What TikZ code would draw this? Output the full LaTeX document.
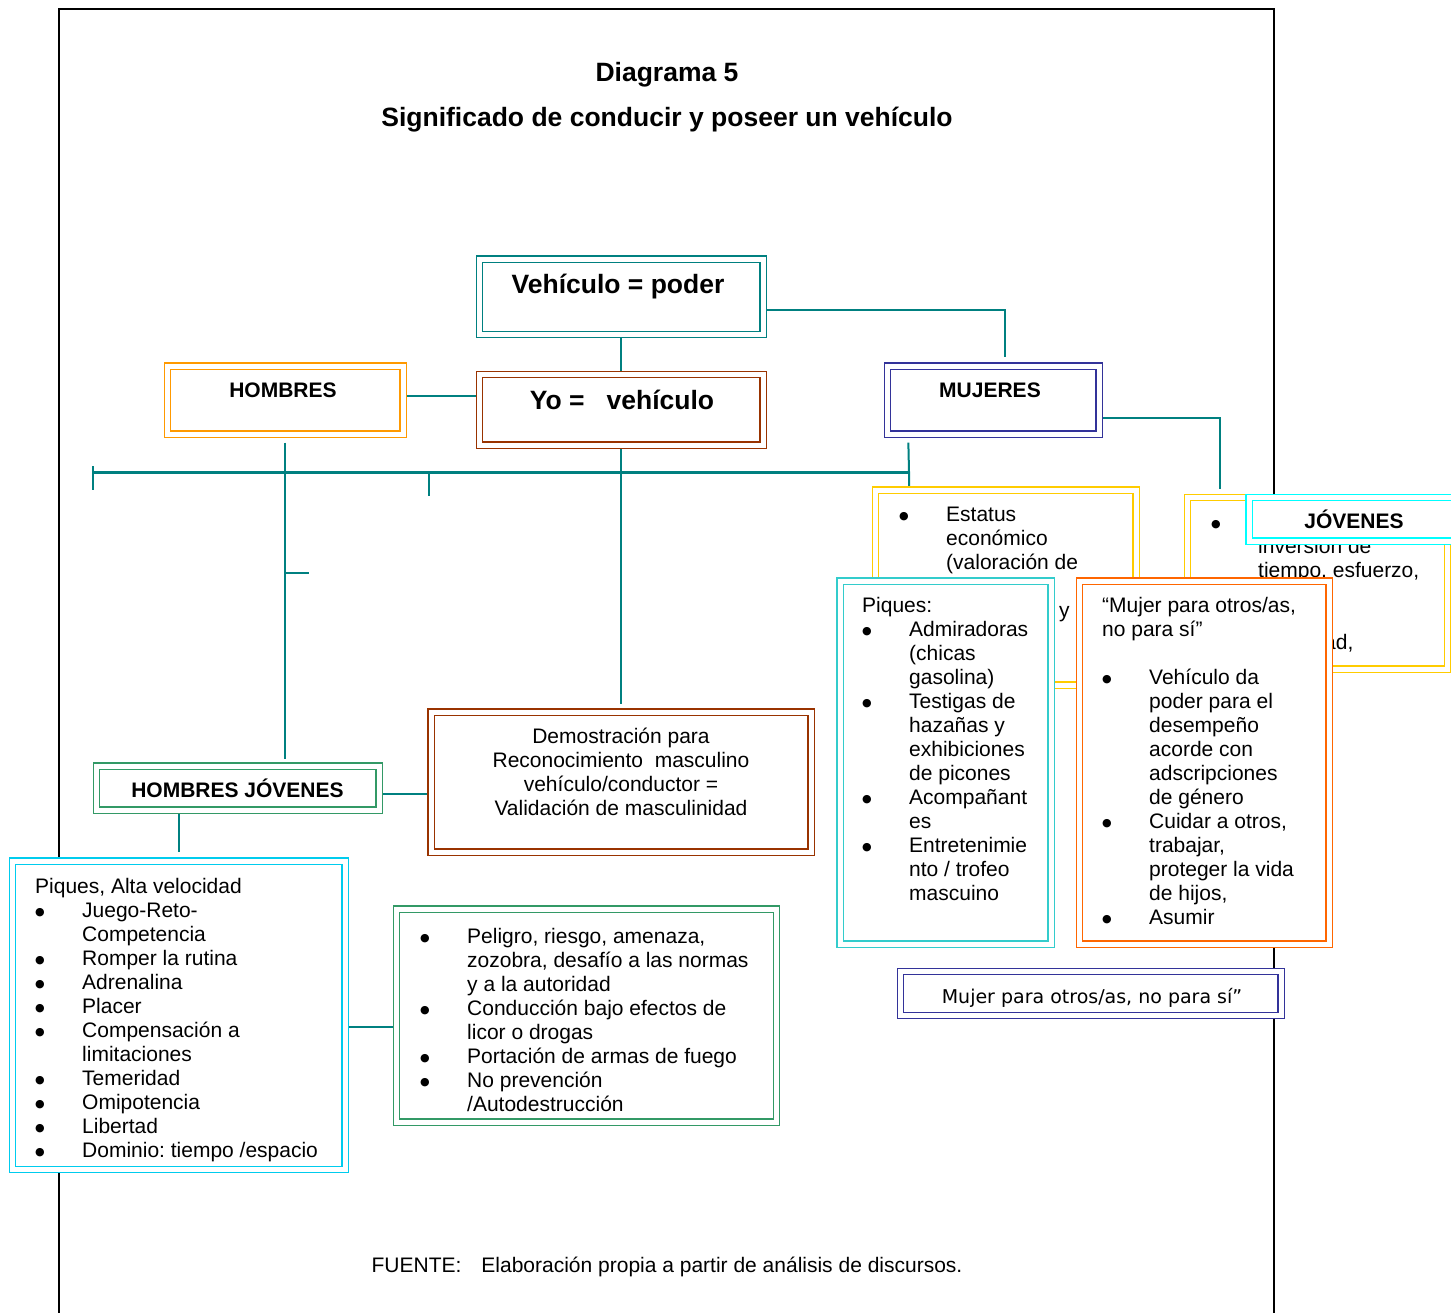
\documentclass[tikz,border=0pt]{standalone}
\usepackage{fontspec}
\setmainfont{Liberation Sans}
\newfontfamily\tahomalike{DejaVu Sans}
\usepackage{xcolor}
\usepackage{tikz}
\usetikzlibrary{calc, backgrounds}

\definecolor{lnteal}{RGB}{0,128,128}
\definecolor{boxbrown}{RGB}{153,51,0}
\definecolor{hmorange}{RGB}{255,153,0}
\definecolor{mjnavy}{RGB}{51,51,153}
\definecolor{hjgreen}{RGB}{51,153,102}
\definecolor{styellow}{RGB}{255,204,0}
\definecolor{orred}{RGB}{255,102,0}
\definecolor{cyansky}{RGB}{0,204,238}
\definecolor{cyanmuj}{RGB}{51,204,204}
\definecolor{cyanjov}{RGB}{0,255,255}

\newcommand{\bl}{\makebox[47pt][l]{\raisebox{1.5pt}{\tahomalike\fontsize{11}{11}\selectfont ●}}}
\newcommand{\ind}{\hspace*{47pt}}
\frenchspacing

\begin{document}
\begin{tikzpicture}[x=1pt, y=-1pt,
  dbox/.style={draw=#1, double=white, double distance=5pt, line width=1.3pt,
    fill=white, inner sep=0pt},
  link/.style={lnteal, line width=2pt},
  bigtxt/.style={font=\bfseries\fontsize{26.5}{30}\selectfont, anchor=base, inner sep=0pt},
  hdtxt/.style={font=\bfseries\fontsize{21}{24}\selectfont, anchor=base, inner sep=0pt},
  lst/.style={font=\fontsize{21}{24}\selectfont, anchor=base west, inner sep=0pt}]
  \useasboundingbox (0,0) rectangle (1451,1312);

  \node[bigtxt] (t1) at (667,81) {Diagrama 5};
  \node[bigtxt] (t2) at (667,126) {Significado de conducir y poseer un vehículo};

  \node[dbox=lnteal, minimum width=283.5pt, minimum height=75.5pt] (vp) at (621.25,296.75) {};
  \node[bigtxt] (vptxt) at (618,293) {Vehículo = poder};
  \node[dbox=boxbrown, minimum width=283.5pt, minimum height=70.5pt] (yo) at (621.25,409.75) {};
  \node[bigtxt] (yotxt) at (622,409) {Yo =\hspace{22pt}vehículo};

  \node[dbox=hmorange, minimum width=235.5pt, minimum height=68pt] (hom) at (285.25,400) {};
  \node[hdtxt] (homtxt) at (283,397) {HOMBRES};
  \node[dbox=mjnavy, minimum width=211.5pt, minimum height=68pt] (muj) at (993.25,400) {};
  \node[hdtxt] (mujtxt) at (990,397) {MUJERES};

  \node[dbox=hjgreen, minimum width=282.5pt, minimum height=44pt] (hj) at (237.75,788) {};
  \node[hdtxt] (hjtxt) at (237.5,797) {HOMBRES JÓVENES};

  \node[dbox=boxbrown, minimum width=380pt, minimum height=140pt] (dem) at (621,782) {};
  \node[lst, anchor=base] (demtxt) at (621,743) {\begin{tabular}[t]{@{}c@{}}
    Demostración para\\
    Reconocimiento\ \ masculino\\
    vehículo/conductor =\\
    Validación de masculinidad
  \end{tabular}};

  \node[dbox=cyansky, minimum width=332.5pt, minimum height=308.5pt] (pav) at (178.75,1015.25) {};
  \node[lst] (pavtxt) at (35,893) {\begin{tabular}[t]{@{}l@{}}
    Piques, Alta velocidad\\
    \bl Juego-Reto-\\
    \ind Competencia\\
    \bl Romper la rutina\\
    \bl Adrenalina\\
    \bl Placer\\
    \bl Compensación a\\
    \ind limitaciones\\
    \bl Temeridad\\
    \bl Omipotencia\\
    \bl Libertad\\
    \bl Dominio: tiempo /espacio
  \end{tabular}};

  \node[dbox=hjgreen, minimum width=380pt, minimum height=213pt] (pel) at (586.5,1015.5) {};
  \node[lst] (peltxt) at (420,943) {\begin{tabular}[t]{@{}l@{}}
    \bl Peligro, riesgo, amenaza,\\
    \ind zozobra, desafío a las normas\\
    \ind y a la autoridad\\
    \bl Conducción bajo efectos de\\
    \ind licor o drogas\\
    \bl Portación de armas de fuego\\
    \bl No prevención\\
    \ind /Autodestrucción
  \end{tabular}};

  \node[dbox=styellow, minimum width=260.5pt, minimum height=195pt] (est) at (1005.75,587.5) {};
  \node[lst] (esttxt) at (899,521) {\begin{tabular}[t]{@{}l@{}}
    \bl Estatus\\
    \ind económico\\
    \ind (valoración de\\
    \\
    \ind\hspace*{113pt}y
  \end{tabular}};

  \node[dbox=styellow, minimum width=260pt, minimum height=171.5pt] (jyel) at (1317.5,583.25) {};
  \node[lst] (jyeltxt) at (1211,529) {\begin{tabular}[t]{@{}l@{}}
    \bl\\
    \ind inversión de\\
    \ind tiempo, esfuerzo,\\
    \\
    \\
    \ind\hspace*{66pt}ad,
  \end{tabular}};

  \node[dbox=cyanjov, minimum width=221pt, minimum height=43.5pt] (jov) at (1359.5,519.25) {};
  \node[hdtxt] (jovtxt) at (1354,528) {JÓVENES};

  \node[dbox=cyanmuj, minimum width=211pt, minimum height=363pt] (pmu) at (945.5,762.5) {};
  \node[lst] (pmutxt) at (862,612) {\begin{tabular}[t]{@{}l@{}}
    Piques:\\
    \bl Admiradoras\\
    \ind (chicas\\
    \ind gasolina)\\
    \bl Testigas de\\
    \ind hazañas y\\
    \ind exhibiciones\\
    \ind de picones\\
    \bl Acompañant\\
    \ind es\\
    \bl Entretenimie\\
    \ind nto / trofeo\\
    \ind mascuino
  \end{tabular}};

  \node[dbox=orred, minimum width=249.5pt, minimum height=363pt] (mpo) at (1204.25,762.5) {};
  \node[lst] (mpotxt) at (1102,612) {\begin{tabular}[t]{@{}l@{}}
    “Mujer para otros/as,\\
    no para sí”\\
    \\
    \bl Vehículo da\\
    \ind poder para el\\
    \ind desempeño\\
    \ind acorde con\\
    \ind adscripciones\\
    \ind de género\\
    \bl Cuidar a otros,\\
    \ind trabajar,\\
    \ind proteger la vida\\
    \ind de hijos,\\
    \bl Asumir
  \end{tabular}};

  \node[dbox=mjnavy, minimum width=380.5pt, minimum height=44pt] (mbot) at (1090.75,993.5) {};
  \node[font=\tahomalike\fontsize{19}{22}\selectfont, anchor=base, inner sep=0pt] (mbottxt) at (1092,1003) {Mujer para otros/as, no para sí”};

  \node[lst, anchor=base] (src) at (667,1272) {FUENTE:\hspace{20pt}Elaboración propia a partir de análisis de discursos.};

  \begin{scope}[on background layer]
    \draw[line width=2pt] (59,1320) -- (59,9) -- (1274,9) -- (1274,1320);

    \draw[link] (vp.south) -- (yo.north);
    \draw[link] ([yshift=-13pt]vp.east) -| ([xshift=11.75pt,yshift=8pt]muj.north);
    \draw[link] ([yshift=4pt]hom.east) -- ([yshift=4pt]hom.east -| yo.west);
    \draw[link] ([yshift=-18pt]muj.east) -| ([xshift=33.5pt,yshift=7.5pt]jyel.north west);

    \coordinate (barL) at (93,472);
    \coordinate (barR) at (909,472);
    \coordinate (barT) at (429,472);
    \coordinate (stub) at (286,573);
    \draw[link, line width=3pt] (barL) -- (barR);
    \draw[link] ([yshift=6pt]barL) -- ([yshift=-18pt]barL);
    \draw[link] (barT) -- ++(0,24);
    \draw[link] ([xshift=21.5pt,yshift=-8pt]muj.south west) -- (barR) -- ++(0,18);
    \draw[link] ([yshift=-8pt]hom.south) -- ([yshift=6pt]hom.south |- hj.north);
    \draw[link] (stub) -- ++(23,0);
    \draw[link] (yo.south) -- ([yshift=7pt]yo.south |- dem.north);
    \draw[link] ([yshift=-6pt]hj.east) -- ([yshift=-6pt]hj.east -| dem.west);
    \draw[link] ([xshift=-59pt]hj.south) -- ([xshift=-59pt,yshift=8pt]hj.south |- pav.north);
    \draw[link] ([yshift=-12pt]pav.east) -- ([yshift=-12pt]pav.east -| pel.west);
  \end{scope}
\end{tikzpicture}
\end{document}
